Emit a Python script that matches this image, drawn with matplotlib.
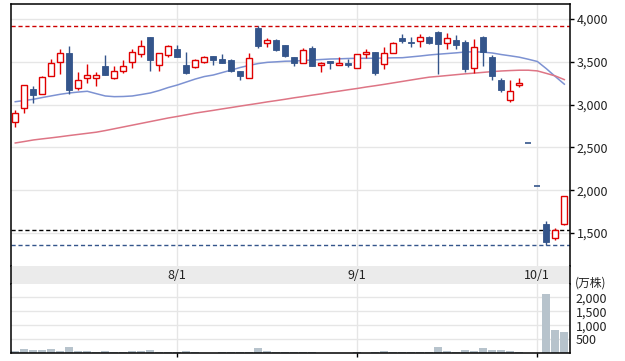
import matplotlib
matplotlib.use('Agg')
import matplotlib.pyplot as plt
from matplotlib.patches import Rectangle
from matplotlib.ticker import FuncFormatter

plt.rcParams['font.family'] = ['Noto Sans CJK JP', 'DejaVu Sans']

# daily prices (yen)
opens = [2794, 2957, 3182, 3120, 3331, 3498, 3603, 3191, 3314, 3307,
         3448, 3314, 3389, 3498, 3591, 3790, 3463, 3576, 3650, 3463,
         3436, 3494, 3565, 3529, 3518, 3393, 3307, 3895, 3716, 3755,
         3696, 3556, 3483, 3661, 3459, 3509, 3466, 3490, 3424, 3588,
         3611, 3471, 3599, 3778, 3731, 3740, 3786, 3848, 3716, 3755,
         3731, 3424, 3790, 3553, 3288, 3050, 3226, 2550, 2050, 1602,
         1442, 1606]
highs = [2937, 3226, 3217, 3331, 3529, 3646, 3685, 3381, 3474, 3381,
         3580, 3448, 3518, 3646, 3755, 3790, 3599, 3696, 3696, 3615,
         3529, 3565, 3565, 3591, 3529, 3393, 3603, 3918, 3778, 3766,
         3696, 3556, 3661, 3685, 3494, 3509, 3556, 3533, 3588, 3650,
         3611, 3673, 3728, 3825, 3790, 3825, 3798, 3860, 3836, 3813,
         3755, 3763, 3801, 3576, 3311, 3288, 3311, 2550, 2050, 1641,
         1562, 1933]
lows = [2742, 2906, 3022, 3120, 3331, 3354, 3120, 3171, 3249, 3221,
        3342, 3303, 3373, 3431, 3553, 3389, 3389, 3560, 3553, 3358,
        3424, 3483, 3466, 3483, 3384, 3291, 3307, 3665, 3673, 3626,
        3553, 3455, 3483, 3455, 3377, 3420, 3466, 3443, 3424, 3541,
        3349, 3420, 3599, 3723, 3676, 3676, 3705, 3358, 3650, 3650,
        3381, 3373, 3451, 3288, 3151, 3034, 3209, 2550, 2050, 1357,
        1419, 1594]
closes = [2900, 3226, 3116, 3319, 3483, 3603, 3167, 3284, 3342, 3342,
          3342, 3389, 3448, 3611, 3685, 3518, 3599, 3681, 3553, 3366,
          3518, 3553, 3521, 3483, 3396, 3338, 3541, 3688, 3751, 3638,
          3571, 3483, 3634, 3455, 3483, 3490, 3490, 3466, 3588, 3611,
          3373, 3599, 3716, 3747, 3723, 3786, 3723, 3712, 3775, 3700,
          3420, 3669, 3615, 3338, 3174, 3159, 3249, 2550, 2050, 1399,
          1536, 1933]
ma_short = [3034, 3048, 3062, 3083, 3102, 3121, 3136, 3147, 3156, 3128,
            3101, 3093, 3095, 3101, 3118, 3136, 3165, 3200, 3229, 3264,
            3299, 3328, 3346, 3375, 3404, 3434, 3459, 3480, 3494, 3500,
            3507, 3509, 3515, 3521, 3527, 3533, 3535, 3539, 3541, 3541,
            3542, 3544, 3547, 3548, 3558, 3568, 3580, 3589, 3597, 3605,
            3615, 3617, 3613, 3603, 3585, 3570, 3554, 3530, 3504, 3420,
            3328, 3239]
ma_long = [2552, 2569, 2587, 2600, 2612, 2625, 2639, 2652, 2665, 2678,
           2697, 2718, 2739, 2760, 2781, 2802, 2823, 2844, 2862, 2881,
           2901, 2917, 2933, 2950, 2966, 2983, 2999, 3015, 3032, 3047,
           3063, 3080, 3095, 3111, 3126, 3143, 3158, 3174, 3189, 3206,
           3221, 3237, 3254, 3271, 3288, 3305, 3321, 3330, 3340, 3350,
           3360, 3368, 3377, 3386, 3393, 3398, 3402, 3402, 3394, 3365,
           3335, 3292]
# volume (万株)
volume = [82, 143, 107, 107, 143, 82, 225, 82, 82, 46,
          82, 46, 46, 82, 82, 118, 46, 46, 46, 82,
          46, 10, 10, 46, 46, 46, 46, 190, 82, 46,
          46, 46, 46, 46, 10, 10, 10, 10, 46, 10,
          46, 82, 46, 46, 46, 46, 46, 225, 82, 46,
          118, 82, 190, 118, 118, 82, 46, 0, 0, 2106,
          821, 760]

month_labels = ['8/1', '9/1', '10/1']
month_idx = [18, 38, 58]
period_high = 3918
period_low = 1357
prev_close = 1536
price_ticks = [1500, 2000, 2500, 3000, 3500, 4000]
vol_ticks = [500, 1000, 1500, 2000]

up_color = '#e00000'
down_color = '#34558b'
grid_color = '#e6e6e6'
text_color = '#222222'

fig = plt.figure(figsize=(6.25, 3.61), dpi=100)
ax = fig.add_axes([0.0171, 0.2632, 0.8949, 0.7249])
band = fig.add_axes([0.0171, 0.2133, 0.8949, 0.0499], sharex=ax)
axv = fig.add_axes([0.0171, 0.0213, 0.8949, 0.192], sharex=ax)

n = len(closes)
w = 0.66
for i in range(n):
    o, h, l, c = opens[i], highs[i], lows[i], closes[i]
    if c > o:
        ax.vlines(i, l, h, color=up_color, lw=1, zorder=3)
        ax.add_patch(Rectangle((i - w / 2, o), w, c - o, facecolor='white',
                               edgecolor=up_color, lw=1.0, zorder=4))
    else:
        ax.vlines(i, l, h, color=down_color, lw=1, zorder=3)
        if o == c:
            ax.hlines(o, i - w / 2, i + w / 2, color=down_color, lw=1.2, zorder=4)
        else:
            ax.add_patch(Rectangle((i - w / 2, c), w, o - c, facecolor=down_color,
                                   edgecolor=down_color, lw=0.6, zorder=4))

x = list(range(n))
ax.plot(x, ma_short, color='#7d92d2', lw=1.1, zorder=2)
ax.plot(x, ma_long, color='#de7585', lw=1.1, zorder=2)

ax.axhline(period_high, color='#cc0000', lw=1, ls=(0, (3, 2)), zorder=2)
ax.axhline(prev_close, color='black', lw=1, ls=(0, (3, 2)), zorder=2)
ax.axhline(period_low, color=down_color, lw=1, ls=(0, (3, 2)), zorder=2)

ax.set_xlim(-0.51, 61.63)
ax.set_ylim(1115, 4172)
ax.set_xticks(month_idx)
ax.set_yticks(price_ticks)
ax.grid(True, color=grid_color, lw=1, zorder=0)
ax.set_axisbelow(True)
ax.yaxis.tick_right()
ax.yaxis.set_major_formatter(FuncFormatter(lambda v, p: f'{int(v):,}'))
ax.tick_params(axis='x', length=0, labelbottom=False)
ax.tick_params(axis='y', direction='out', length=3, width=1, pad=2,
               labelsize=9, labelcolor=text_color)
ax.spines['bottom'].set_visible(False)
for s in ['left', 'right', 'top']:
    ax.spines[s].set_linewidth(1.1)

band.set_facecolor('#ebebeb')
band.set_ylim(0, 1)
for lab, idx in zip(month_labels, month_idx):
    band.text(idx, 0.45, lab, ha='center', va='center', fontsize=9, color=text_color)
band.tick_params(left=False, right=False, bottom=False, labelleft=False, labelbottom=False)
for s in ['top', 'bottom']:
    band.spines[s].set_visible(False)
for s in ['left', 'right']:
    band.spines[s].set_linewidth(1.1)

axv.bar(x, volume, width=0.88, color='#b7c3cc', zorder=2)
axv.set_ylim(0, 2474)
axv.set_yticks(vol_ticks)
axv.set_xticks(month_idx)
axv.grid(True, color=grid_color, lw=1, zorder=0)
axv.set_axisbelow(True)
axv.yaxis.tick_right()
axv.yaxis.set_major_formatter(FuncFormatter(lambda v, p: f'{int(v):,}'))
axv.tick_params(axis='y', length=0, pad=4, labelsize=9, labelcolor=text_color)
axv.tick_params(axis='x', direction='out', length=3, width=1, labelbottom=False)
axv.spines['top'].set_visible(False)
for s in ['left', 'right', 'bottom']:
    axv.spines[s].set_linewidth(1.1)
fig.text(575 / 625, 1 - 283.5 / 361, '(万株)', ha='left', va='center',
         fontsize=8.5, color=text_color)

fig.savefig('out.png', dpi=100)
